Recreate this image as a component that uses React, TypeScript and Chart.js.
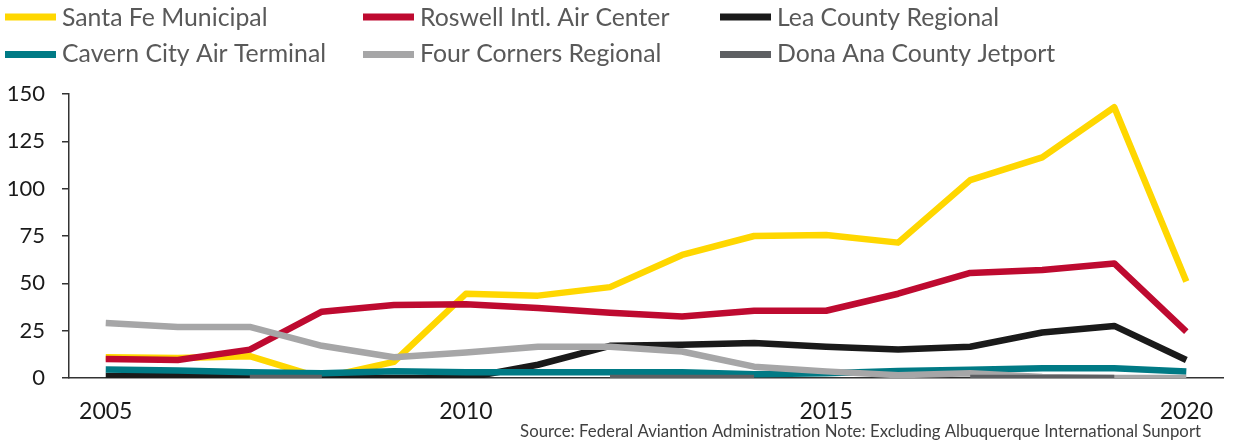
import React, { useEffect, useRef } from "react";
import { Chart, registerables } from "chart.js";

Chart.register(...registerables);

const years = [2005, 2006, 2007, 2008, 2009, 2010, 2011, 2012, 2013, 2014, 2015, 2016, 2017, 2018, 2019, 2020];
const xTicks = [2005, 2010, 2015, 2020];
const yTicks = [0, 25, 50, 75, 100, 125, 150];

const santaFe = [11, 10.5, 11.5, 0, 8.5, 44.5, 43.5, 48, 65, 75, 75.5, 71.5, 104.5, 116.5, 143, 51];
const roswell = [10, 9.5, 15, 35, 38.5, 39, 37, 34.5, 32.5, 35.5, 35.5, 44.5, 55.5, 57, 60.5, 24.5];
const lea = [1, 1, 0.5, 0.5, 0, 0, 7, 17, 17.5, 18.5, 16.5, 15, 16.5, 24, 27.5, 9.5];
const cavern = [4.5, 4, 3, 2.5, 3.5, 3, 3, 3, 3, 2, 2.5, 3.7, 4.3, 5.2, 5.2, 3.4];
const fourCorners = [29, 27, 27, 17, 11, 13.5, 16.5, 16.5, 14, 6, 3.5, 1.5, 2.5, 0.5, 0, 0];
const donaAna = [null, null, 0, 0, null, null, null, 0, 0, 0, null, null, 0, 0, 0, null];

const seriesNames = [
  "Santa Fe Municipal",
  "Roswell Intl. Air Center",
  "Lea County Regional",
  "Cavern City Air Terminal",
  "Four Corners Regional",
  "Dona Ana County Jetport",
];
const seriesValues = [santaFe, roswell, lea, cavern, fourCorners, donaAna];
const seriesColors = ["#FFD700", "#BE0A30", "#1A1A1A", "#007A85", "#A6A6A7", "#5E6063"];

const sourceText = "Source: Federal Aviantion Administration Note: Excluding Albuquerque International Sunport";

const FONT = "Lato, 'Open Sans', sans-serif";

const legendPlugin = {
  id: "customLegend",
  afterDraw(chart: any) {
    const ctx = chart.ctx;
    const colX = [5, 363, 720];
    const swatchY = [17, 54.5];
    const textBase = [25.5, 62];
    ctx.save();
    chart.data.datasets.forEach((ds: any, i: number) => {
      const col = i % 3;
      const row = Math.floor(i / 3);
      ctx.fillStyle = ds.borderColor;
      ctx.fillRect(colX[col], swatchY[row] - 3.5, 51, 7);
      ctx.fillStyle = "#595959";
      ctx.font = `24.8px ${FONT}`;
      ctx.textAlign = "left";
      ctx.textBaseline = "alphabetic";
      ctx.fillText(ds.label, colX[col] + 57, textBase[row]);
    });
    ctx.font = `16.8px ${FONT}`;
    ctx.fillStyle = "#404040";
    ctx.textAlign = "right";
    ctx.fillText(sourceText, 1201, 437);
    ctx.restore();
  },
};

export default function App() {
  const ref = useRef<HTMLCanvasElement | null>(null);
  useEffect(() => {
    if (!ref.current) return;
    const datasets = seriesNames.map((name, i) => ({
      label: name,
      data: years.map((y, j) => ({ x: y, y: seriesValues[i][j] })),
      borderColor: seriesColors[i],
      backgroundColor: seriesColors[i],
      borderWidth: 6.5,
      pointRadius: 0,
      pointHoverRadius: 0,
      borderJoinStyle: "round" as const,
      borderCapStyle: "butt" as const,
      spanGaps: false,
      tension: 0,
      order: seriesNames.length - 1 - i,
    }));
    const chart = new Chart(ref.current, {
      type: "line",
      data: { datasets },
      plugins: [legendPlugin],
      options: {
        animation: false,
        responsive: false,
        maintainAspectRatio: false,
        layout: { padding: { top: 94, left: 0, right: 0, bottom: 0 } },
        plugins: { legend: { display: false }, tooltip: { enabled: false } },
        scales: {
          x: {
            type: "linear",
            min: 2004.49,
            max: 2020.52,
            afterBuildTicks: (scale: any) => {
              scale.ticks = xTicks.map((v) => ({ value: v }));
            },
            afterFit: (scale: any) => {
              scale.height = 63;
            },
            grid: { display: false, drawTicks: false },
            border: { display: true, color: "#333333", width: 1.5 },
            ticks: {
              padding: 20,
              color: "#1A1A1A",
              font: { family: FONT, size: 23 },
              maxRotation: 0,
              autoSkip: false,
              callback: (v: any) => String(v),
            },
          },
          y: {
            min: 0,
            max: 150,
            afterBuildTicks: (scale: any) => {
              scale.ticks = yTicks.map((v) => ({ value: v }));
            },
            afterFit: (scale: any) => {
              scale.width = 69;
            },
            grid: {
              display: true,
              drawOnChartArea: false,
              drawTicks: true,
              tickLength: 7,
              color: "#333333",
              lineWidth: 1.5,
            },
            border: { display: true, color: "#333333", width: 1.5 },
            ticks: {
              padding: 17,
              color: "#1A1A1A",
              font: { family: FONT, size: 22 },
              callback: (v: any) => String(v),
            },
          },
        },
      },
    });
    return () => chart.destroy();
  }, []);
  return (
    <div style={{ position: "absolute", left: 0, top: 0, width: 1233, height: 441 }}>
      <canvas ref={ref} width={1233} height={441} />
    </div>
  );
}
